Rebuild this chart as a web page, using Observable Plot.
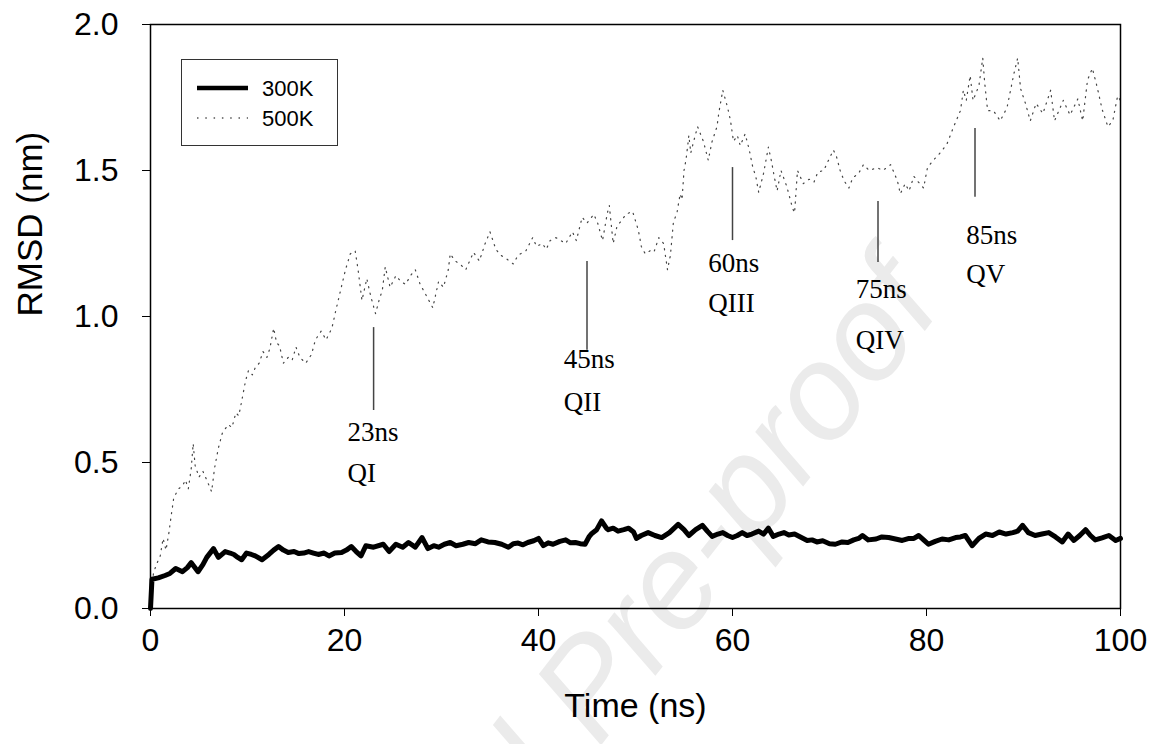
<!DOCTYPE html>
<html>
<head>
<meta charset="utf-8">
<script src="https://cdn.jsdelivr.net/npm/d3@7"></script>
<script src="https://cdn.jsdelivr.net/npm/@observablehq/plot@0.6"></script>
<style>
  html, body { margin: 0; padding: 0; background: white; }
  #wrap { position: relative; width: 1161px; height: 744px; overflow: hidden; }
  #wm { position: absolute; left: 0; top: 0; }
  #chart { position: absolute; left: 0; top: 0; }
  #legend { position: absolute; left: 181px; top: 59px; width: 155px; height: 85px;
            border: 1.5px solid #333; background: white; font-family: "Liberation Sans", Arial, sans-serif; font-size: 22px; }
</style>
</head>
<body>
<div id="wrap">
  <svg id="wm" width="1161" height="744">
    <text x="945" y="305" text-anchor="end" transform="rotate(-52 945 305)"
          font-family="Liberation Sans, Arial, sans-serif" font-style="italic" font-size="135" fill="#ebebeb">Journal Pre-proof</text>
  </svg>
  <div id="chart"></div>
  <div id="legend"></div>
</div>
<script>
// ---- Data ----
const seriesNames = ["300K", "500K"];

const time300 = [0,0.15,0.8,1.5,2.0,2.6,3.3,3.8,4.2,4.9,5.4,5.8,6.5,7.0,7.7,8.2,8.6,9.0,9.4,9.9,10.4,10.8,11.5,12.2,12.7,13.2,13.7,14.2,14.8,15.3,15.8,16.3,16.8,17.3,17.9,18.4,19.0,19.7,20.2,20.7,21.2,21.7,22.2,23.0,24.0,24.6,25.3,26.0,26.6,27.3,28.0,28.6,29.2,29.7,30.3,30.9,31.5,32.2,32.8,33.5,34.1,34.8,35.5,36.2,36.9,37.4,37.9,38.4,38.9,39.5,40.0,40.5,41.0,41.5,42.2,42.8,43.3,43.8,44.3,44.8,45.2,45.5,46.0,46.5,47.0,47.2,47.7,48.2,48.8,49.3,49.8,50.1,50.6,51.3,52.0,52.7,53.5,54.4,55.0,55.5,56.2,56.9,57.4,57.9,58.5,59.0,59.5,60.0,60.5,61.0,61.5,62.0,62.7,63.2,63.7,64.2,64.8,65.3,65.8,66.4,67.0,67.7,68.2,68.7,69.3,70.0,70.6,71.3,71.9,72.5,73.0,73.4,74.0,74.8,75.4,76.1,76.8,77.5,78.2,78.7,79.2,79.7,80.2,80.9,81.6,82.3,83.0,83.5,84.0,84.7,85.4,86.1,86.8,87.5,88.2,88.9,89.4,89.9,90.5,91.2,91.9,92.6,93.3,94.0,94.6,95.2,95.8,96.4,96.9,97.4,98.1,98.8,99.5,100];
const rmsd300 = [0.0,0.10,0.105,0.113,0.12,0.137,0.126,0.14,0.157,0.126,0.15,0.175,0.205,0.175,0.195,0.19,0.185,0.175,0.167,0.19,0.185,0.18,0.167,0.185,0.2,0.212,0.2,0.192,0.195,0.188,0.19,0.195,0.19,0.185,0.19,0.18,0.19,0.192,0.2,0.212,0.195,0.18,0.215,0.21,0.22,0.195,0.22,0.21,0.226,0.21,0.243,0.205,0.215,0.21,0.22,0.226,0.215,0.22,0.226,0.222,0.235,0.228,0.226,0.22,0.21,0.222,0.224,0.218,0.226,0.232,0.24,0.215,0.225,0.22,0.23,0.235,0.225,0.226,0.222,0.22,0.245,0.257,0.27,0.30,0.275,0.27,0.275,0.265,0.27,0.275,0.262,0.24,0.25,0.26,0.25,0.243,0.26,0.288,0.27,0.25,0.27,0.285,0.265,0.247,0.255,0.26,0.25,0.243,0.25,0.26,0.25,0.255,0.265,0.255,0.275,0.247,0.255,0.26,0.252,0.255,0.245,0.233,0.235,0.228,0.232,0.222,0.22,0.228,0.226,0.235,0.24,0.25,0.235,0.238,0.245,0.243,0.238,0.233,0.24,0.24,0.25,0.235,0.22,0.23,0.238,0.235,0.243,0.245,0.25,0.215,0.24,0.255,0.25,0.262,0.255,0.26,0.265,0.285,0.26,0.25,0.255,0.26,0.245,0.228,0.255,0.233,0.25,0.27,0.25,0.235,0.242,0.25,0.233,0.24];

const time500 = [0,0.3,0.6,1.0,1.3,1.6,1.9,2.1,2.4,2.9,3.3,3.6,3.9,4.2,4.4,4.6,5.0,5.4,5.8,6.3,6.6,7.0,7.4,8.0,8.4,8.8,9.1,9.4,9.8,10.1,10.5,10.8,11.2,11.6,12.0,12.3,12.7,13.0,13.3,13.7,14.2,14.6,15.0,15.4,16.0,16.6,17.0,17.6,18.1,18.7,19.1,19.6,20.1,20.6,21.1,21.4,21.8,22.3,22.7,23.2,23.6,23.9,24.2,24.7,25.3,25.8,26.3,26.8,27.3,27.8,28.3,28.7,29.1,29.7,30.2,30.7,30.9,31.4,31.9,32.5,33.3,33.9,34.5,35.0,35.6,36.1,36.6,37.0,37.4,37.9,38.7,39.4,39.8,40.4,40.8,41.2,41.8,42.3,42.8,43.5,43.9,44.5,45.0,45.7,46.1,46.6,47.1,47.3,47.7,48.1,48.6,49.0,49.7,50.3,50.6,51.0,51.5,51.9,52.4,52.9,53.3,53.6,53.9,54.3,54.6,54.8,55.0,55.2,55.4,55.5,55.7,56.0,56.4,57.0,57.5,57.9,58.4,58.6,59.0,59.5,59.8,60.1,60.5,60.8,61.3,61.7,62.1,62.4,62.7,63.2,63.7,64.0,64.3,64.6,65.0,65.6,66.2,66.4,66.7,67.3,67.9,68.4,68.8,69.4,69.9,70.4,70.7,71.1,71.5,72.0,72.4,73.0,73.5,74.1,74.9,75.5,76.3,77.0,77.3,77.8,78.2,78.7,79.3,79.7,80.1,80.7,81.4,82.1,82.8,83.5,83.8,84.1,84.5,84.8,85.4,85.8,86.0,86.3,86.9,87.6,88.3,89.0,89.4,89.7,90.2,90.7,91.3,92.0,92.8,93.2,94.1,94.8,95.6,96.1,96.6,97.1,97.6,98.1,98.7,99.2,99.7,100];
const rmsd500 = [0.0,0.12,0.15,0.18,0.24,0.2,0.26,0.31,0.38,0.41,0.42,0.44,0.41,0.48,0.565,0.49,0.45,0.47,0.44,0.40,0.48,0.55,0.60,0.63,0.62,0.67,0.66,0.71,0.78,0.815,0.80,0.825,0.84,0.88,0.86,0.89,0.96,0.91,0.90,0.84,0.86,0.85,0.895,0.86,0.84,0.87,0.92,0.95,0.92,0.96,1.02,1.09,1.16,1.215,1.225,1.16,1.055,1.13,1.07,1.01,1.06,1.09,1.17,1.10,1.14,1.12,1.11,1.14,1.16,1.11,1.08,1.055,1.03,1.12,1.10,1.16,1.215,1.19,1.18,1.16,1.22,1.19,1.25,1.29,1.23,1.21,1.20,1.19,1.18,1.21,1.225,1.27,1.24,1.25,1.23,1.26,1.27,1.26,1.25,1.29,1.26,1.34,1.32,1.35,1.32,1.26,1.355,1.38,1.25,1.31,1.33,1.35,1.36,1.295,1.24,1.215,1.225,1.22,1.27,1.25,1.16,1.21,1.32,1.36,1.42,1.40,1.50,1.535,1.59,1.62,1.56,1.60,1.65,1.60,1.535,1.60,1.65,1.70,1.775,1.715,1.67,1.60,1.62,1.585,1.625,1.575,1.51,1.48,1.425,1.49,1.58,1.535,1.48,1.43,1.50,1.445,1.37,1.355,1.50,1.455,1.47,1.46,1.495,1.50,1.535,1.57,1.55,1.50,1.465,1.44,1.475,1.49,1.52,1.50,1.51,1.50,1.52,1.465,1.42,1.455,1.43,1.48,1.455,1.44,1.51,1.535,1.56,1.59,1.65,1.705,1.775,1.74,1.825,1.74,1.79,1.885,1.80,1.705,1.705,1.67,1.715,1.83,1.885,1.78,1.73,1.67,1.73,1.695,1.775,1.67,1.74,1.69,1.745,1.67,1.81,1.85,1.785,1.71,1.65,1.67,1.755,1.74];

// Annotations (quasi-stable states)
const annTime   = [23, 45, 60, 75, 85];
const annTop    = [0.962, 1.188, 1.51, 1.394, 1.644];
const annBottom = [0.678, 0.884, 1.26, 1.185, 1.408];
const annText1  = ["23ns", "45ns", "60ns", "75ns", "85ns"];
const annText2  = ["QI", "QII", "QIII", "QIV", "QV"];
const annLabelX = [20.3, 42.6, 57.5, 72.7, 84.1];
const annLabelY1 = [0.572, 0.822, 1.151, 1.062, 1.25];
const annLabelY2 = [0.432, 0.678, 1.014, 0.89, 1.116];

const xTicks = [0, 20, 40, 60, 80, 100];
const yTicks = [0, 0.5, 1.0, 1.5, 2.0];

// ---- Build tables ----
const d300 = time300.map((t, i) => ({t, v: rmsd300[i]}));
const d500 = time500.map((t, i) => ({t, v: rmsd500[i]}));
const ann = annTime.map((t, i) => ({
  t, top: annTop[i], bottom: annBottom[i], s1: annText1[i], s2: annText2[i],
  lx: annLabelX[i], ly1: annLabelY1[i], ly2: annLabelY2[i]
}));

const sans = "'Liberation Sans', Arial, sans-serif";
const serif = "'Liberation Serif', 'Times New Roman', serif";

const chart = Plot.plot({
  width: 1161,
  height: 744,
  marginLeft: 150,
  marginRight: 41,
  marginTop: 24,
  marginBottom: 136,
  style: {fontFamily: sans, fontSize: "32px", background: "transparent", color: "black"},
  x: {domain: [0, 100], ticks: xTicks, tickSize: 8, tickPadding: 12, label: null},
  y: {domain: [0, 2], ticks: yTicks, tickFormat: d3.format(".1f"), tickSize: 8, tickPadding: 24, label: null},
  marks: [
    Plot.line(d500, {x: "t", y: "v", stroke: "#444", strokeWidth: 1.2, strokeDasharray: "1.2,5.5"}),
    Plot.line(d300, {x: "t", y: "v", stroke: "black", strokeWidth: 5, strokeLinejoin: "round"}),
    Plot.ruleX(ann, {x: "t", y1: "bottom", y2: "top", stroke: "#444", strokeWidth: 1.5}),
    Plot.text(ann, {x: "lx", y: "ly1", text: "s1", textAnchor: "start", lineAnchor: "bottom", fontFamily: serif, fontSize: 27, fill: "black"}),
    Plot.text(ann, {x: "lx", y: "ly2", text: "s2", textAnchor: "start", lineAnchor: "bottom", fontFamily: serif, fontSize: 27, fill: "black"}),
    Plot.frame({stroke: "black", strokeWidth: 1.5}),
    Plot.text(["Time (ns)"], {text: d => d, frameAnchor: "bottom", dy: 108, lineAnchor: "bottom", fontSize: 34, fontFamily: sans}),
    Plot.text(["RMSD (nm)"], {text: d => d, frameAnchor: "left", dx: -120, rotate: -90, fontSize: 35, fontFamily: sans})
  ]
});
document.getElementById("chart").appendChild(chart);

// ---- Legend ----
const leg = d3.select("#legend").append("svg").attr("width", 155).attr("height", 85);
const rows = [
  {name: seriesNames[0], stroke: "black", width: 4.5, dash: null},
  {name: seriesNames[1], stroke: "#555", width: 1.3, dash: "1.5,6.8"}
];
rows.forEach((r, i) => {
  const y = 28 + i * 30;
  leg.append("line").attr("x1", 15).attr("x2", 66).attr("y1", y).attr("y2", y)
    .attr("stroke", r.stroke).attr("stroke-width", r.width).attr("stroke-dasharray", r.dash);
  leg.append("text").attr("x", 80).attr("y", y).attr("dy", "0.35em")
    .attr("font-family", sans).attr("font-size", 22).text(r.name);
});
</script>
</body>
</html>
